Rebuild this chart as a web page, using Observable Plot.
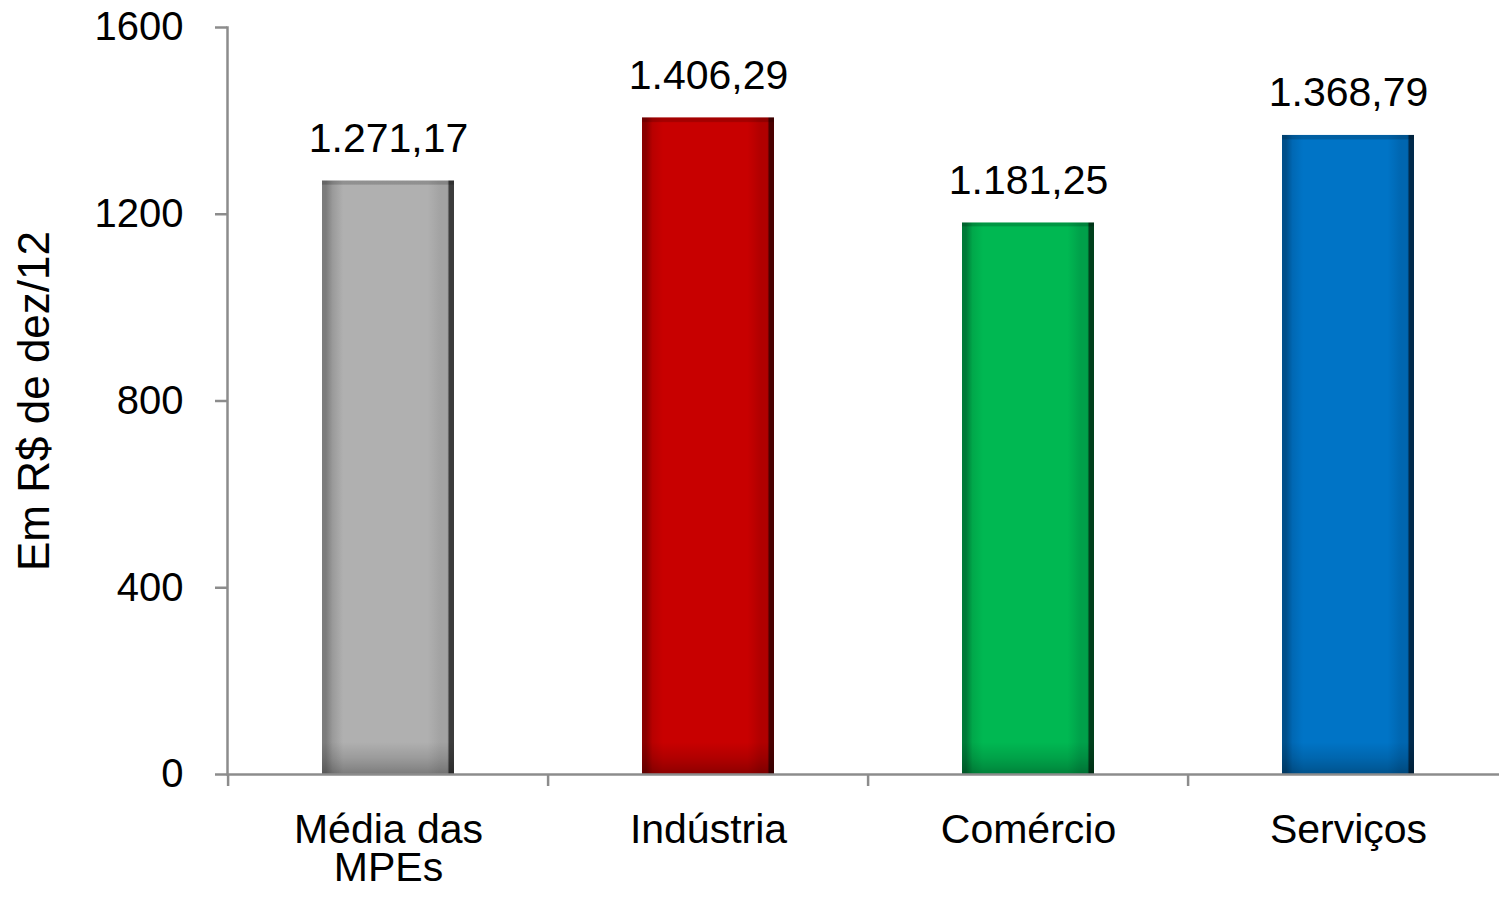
<!DOCTYPE html>
<html>
<head>
<meta charset="utf-8">
<script src="https://cdn.jsdelivr.net/npm/d3@7"></script>
<script src="https://cdn.jsdelivr.net/npm/@observablehq/plot@0.6"></script>
<style>
  html, body { margin: 0; padding: 0; background: #fff; }
  #chart svg { display: block; }
</style>
</head>
<body>
<div id="chart"></div>
<script>
const categories = ["Média das MPEs", "Indústria", "Comércio", "Serviços"];
const xLabels = ["Média das\nMPEs", "Indústria", "Comércio", "Serviços"];
const values = [1271.17, 1406.29, 1181.25, 1368.79];
const valueLabels = ["1.271,17", "1.406,29", "1.181,25", "1.368,79"];
const yTicks = [0, 400, 800, 1200, 1600];
const yTitle = "Em R$ de dez/12";
const gradientIds = ["gGray", "gRed", "gGreen", "gBlue"];
// [left edge, left light, mid, right mid, right edge]
const barShades = [
  ["#7c7c7c", "#9a9a9a", "#b0b0b0", "#a2a2a2", "#3c3c3c"],
  ["#8a0000", "#b80000", "#c80000", "#b00000", "#4a0000"],
  ["#007a38", "#00a84a", "#00b852", "#00a04a", "#00401c"],
  ["#004f8a", "#0068b4", "#0074c6", "#0066b0", "#002a4c"]
];

const chartData = categories.map((c, i) => ({category: c, value: values[i], label: valueLabels[i]}));

const W = 1499, H = 897;
const mLeft = 227, mTop = 27, mBottom = 123;
const step = 320.8;
const font = "'Liberation Sans', Arial, sans-serif";

const svgNode = Plot.plot({
  width: W,
  height: H,
  marginLeft: mLeft,
  marginRight: 0,
  marginTop: mTop,
  marginBottom: mBottom,
  style: {fontFamily: font, fontSize: "40px", color: "#000", background: "#fff", overflow: "visible"},
  x: {domain: categories, range: [mLeft, mLeft + step * categories.length], paddingInner: 0.586, paddingOuter: 0.293, axis: null},
  y: {domain: [0, 1600], axis: null},
  color: {type: "ordinal", domain: categories, range: gradientIds.map(id => `url(#${id})`)},
  marks: [
    Plot.barY(chartData, {x: "category", y: "value", fill: "category"}),
    Plot.barY(chartData, {x: "category", y: "value", fill: "url(#gShadeBottom)"}),
    Plot.barY(chartData, {x: "category", y: "value", fill: "url(#gShadeTop)"}),
    Plot.axisY({ticks: yTicks, tickSize: 12, tickPadding: 32, stroke: "#8c8c8c", strokeWidth: 2.5, fontSize: 40, label: null, tickFormat: d => String(d)}),
    Plot.frame({anchor: "left", stroke: "#8c8c8c", strokeWidth: 2.5}),
    Plot.ruleY([0], {stroke: "#8c8c8c", strokeWidth: 2.5}),
    Plot.ruleX(categories, {x: d => d, dx: -step / 2, y1: 0, y2: 0, insetBottom: -12, stroke: "#8c8c8c", strokeWidth: 2.5}),
    Plot.axisX({tickSize: 0, tickPadding: 41, fontSize: 41, lineHeight: 0.94, label: null, tickFormat: d => xLabels[categories.indexOf(d)]}),
    Plot.text(chartData, {x: "category", y: "value", text: "label", lineAnchor: "bottom", dy: -29, fontSize: 41, fill: "#000"}),
    Plot.text([yTitle], {frameAnchor: "left", textAnchor: "middle", rotate: -90, dx: -193, fontSize: 44, fill: "#000"})
  ]
});

const defs = d3.select(svgNode).insert("defs", ":first-child");
gradientIds.forEach((id, i) => {
  const s = barShades[i];
  const g = defs.append("linearGradient").attr("id", id).attr("x1", 0).attr("x2", 1).attr("y1", 0).attr("y2", 0);
  [[0, s[0]], [0.03, s[0]], [0.08, s[1]], [0.16, s[2]], [0.8, s[2]], [0.9, s[3]], [0.95, s[3]], [0.965, s[4]], [1, s[4]]]
    .forEach(([o, c]) => g.append("stop").attr("offset", o).attr("stop-color", c));
});
const gb = defs.append("linearGradient").attr("id", "gShadeBottom").attr("gradientUnits", "userSpaceOnUse")
  .attr("x1", 0).attr("x2", 0).attr("y1", H - mBottom - 32).attr("y2", H - mBottom);
[[0, 0], [0.5, 0.12], [0.8, 0.22], [1, 0.3]].forEach(([o, a]) => gb.append("stop").attr("offset", o).attr("stop-color", "#000").attr("stop-opacity", a));
const gt = defs.append("linearGradient").attr("id", "gShadeTop").attr("x1", 0).attr("x2", 0).attr("y1", 0).attr("y2", 1);
[[0, 0.18], [0.006, 0.18], [0.008, 0], [1, 0]].forEach(([o, a]) => gt.append("stop").attr("offset", o).attr("stop-color", "#000").attr("stop-opacity", a));

document.getElementById("chart").appendChild(svgNode);
</script>
</body>
</html>
